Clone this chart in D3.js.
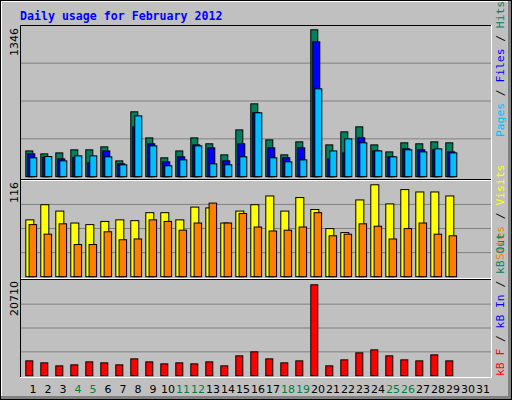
<!DOCTYPE html>
<html><head><meta charset="utf-8">
<script src="https://cdn.jsdelivr.net/npm/d3@7/dist/d3.min.js"></script>
<style>body{margin:0;background:#fff}</style></head>
<body><script>
const days = d3.range(1,32);
const weekend = [4,5,11,12,18,19,25,26];
const hits  = [240,213,222,250,250,277,149,597,359,177,240,359,305,204,432,670,341,204,323,1346,295,414,460,295,231,314,305,323,314];
const files = [213,183,167,180,131,240,122,460,305,140,186,295,268,149,305,588,268,177,268,1236,167,222,359,240,186,259,250,250,231];
const pages = [177,189,149,195,195,186,113,560,286,104,158,286,122,113,186,588,177,140,158,807,240,350,314,240,186,250,231,259,222];
const visits= [72,91,83,68,66,70,72,71,81,81,72,88,87,68,83,91,102,83,100,85,61,56,97,116,92,110,107,107,102];
const sites = [66,54,67,41,41,57,47,48,72,70,59,68,93,68,80,63,58,59,63,81,52,54,67,64,48,61,68,54,52];
const kbF   = [3477,3023,2343,2570,3250,3023,2570,3930,3250,2797,3023,2797,3250,2343,4611,5518,3930,3023,3477,20710,2343,3704,5291,5971,4611,3704,3477,4837,3477];
const maxLabels = ["1346","116","20710"];

const W=512,H=400;
const svg=d3.select("body").append("svg").attr("width",W).attr("height",H);
svg.append("rect").attr("width",W).attr("height",H).attr("fill","#c0c0c0");
svg.append("rect").attr("x",0.5).attr("y",0.5).attr("width",W-1).attr("height",H-1).attr("fill","none").attr("stroke","#000");
svg.append("path").attr("d","M1.5,398 V1.5 H510").attr("stroke","#fff").attr("fill","none");
svg.append("rect").attr("x",1).attr("y",396).attr("width",510).attr("height",3).attr("fill","#808080");
svg.append("rect").attr("x",508).attr("y",1).attr("width",3).attr("height",398).attr("fill","#808080");

svg.append("text").attr("x",20).attr("y",20).text("Daily usage for February 2012")
 .attr("font-family","DejaVu Sans Mono").attr("font-weight","bold").attr("font-size",11.6).attr("fill","#0000ff");

const x=d3.scaleLinear().domain([1,2]).range([25.3,40.3]);
const L=20,R=491;
// plot box
svg.append("path").attr("d",`M${L+0.5},377 V25.5 H${R}`).attr("stroke","#000").attr("fill","none");
svg.append("path").attr("d",`M${R+0.5},25 V377.5 H${L}`).attr("stroke","#fff").attr("fill","none");

function panel(top,bottom,max,maxY){
  const y=d3.scaleLinear().domain([0,max]).range([bottom,maxY]);
  const step=(bottom-top)/4;
  for(let i=1;i<4;i++) svg.append("line").attr("x1",L+1).attr("x2",R).attr("y1",bottom-step*i).attr("y2",bottom-step*i).attr("stroke","#808080");
  return y;
}
const y1=panel(25.3,176.7,1346,29.3);
const y2=panel(180.3,276.7,116,184.3);
const y3=panel(280.3,375.7,20710,284.3);
[[179.5,"#000"],[180.5,"#fff"],[279.5,"#000"],[278.5,"#fff"]].forEach(([yy,c])=>
  svg.append("line").attr("x1",L+1).attr("x2",R).attr("y1",yy).attr("y2",yy).attr("stroke",c));

function bars(data,y,off,w,color,base){
  svg.append("g").selectAll("rect").data(data).join("rect")
   .attr("x",(d,i)=>x(i+1)+off+0.5).attr("y",d=>y(d)+0.5)
   .attr("width",w).attr("height",d=>base-y(d))
   .attr("fill",color).attr("stroke","#000").attr("stroke-width",1);
}
bars(hits,y1,0,7,"#00805c",176.2);
bars(files,y1,2,7,"#0000ff",176.2);
bars(pages,y1,4,7,"#00bfff",176.2);
bars(visits,y2,0,8,"#ffff00",276.2);
bars(sites,y2,3.3,7.5,"#ff8000",276.2);
bars(kbF,y3,0,7,"#ff0000",375.2);

svg.append("g").selectAll("text").data(days).join("text")
 .attr("x",d=>x(d)+7.7).attr("y",393).attr("text-anchor","middle")
 .attr("font-family","DejaVu Sans").attr("font-size",11)
 .attr("fill",d=>weekend.includes(d)?"#008040":"#000").text(d=>d);

const ylab=[[28,maxLabels[0]],[182,maxLabels[1]],[281,maxLabels[2]]];
ylab.forEach(([yy,t])=>svg.append("text").attr("transform",`translate(18,${yy}) rotate(-90)`)
  .attr("text-anchor","end").attr("font-family","DejaVu Sans").attr("font-size",11).text(t));

function rlabel(yy,parts){
  const t=svg.append("text").attr("transform",`translate(504,${yy}) rotate(-90)`)
   .attr("font-family","DejaVu Sans Mono").attr("font-size",11.3);
  parts.forEach(([s,c])=>t.append("tspan").attr("fill",c).text(s));
}
rlabel(137,[["Pages","#00bfff"],[" / ","#000"],["Files","#0000ff"],[" / ","#000"],["Hits","#00805c"]]);
rlabel(260,[["Sites","#ff8000"],[" / ","#000"],["Visits","#ffff00"]]);
rlabel(376,[["kB F","#ff0000"],[" / ","#000"],["kB In","#0000ff"],[" / ","#000"],["kB Out","#00805c"]]);
</script></body></html>
